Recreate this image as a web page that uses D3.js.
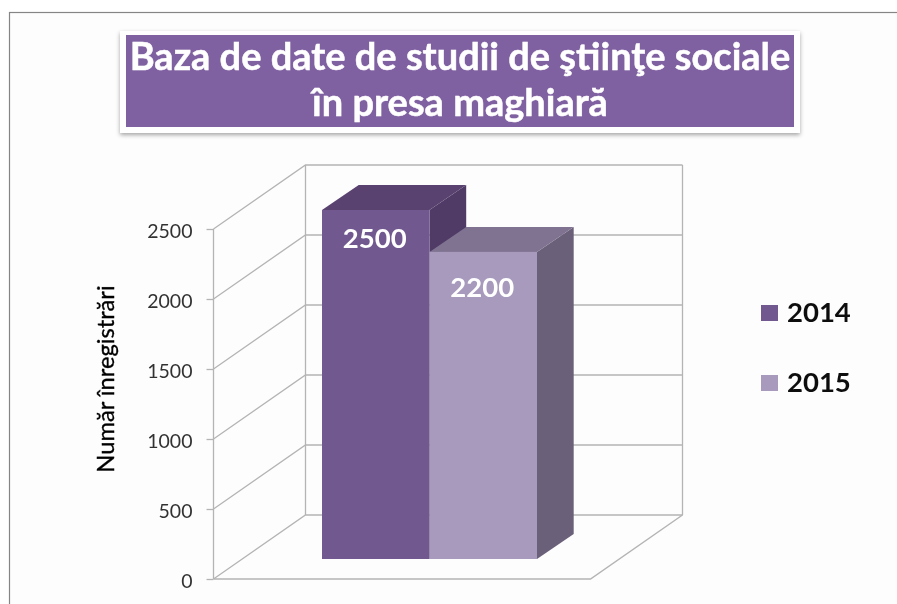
<!DOCTYPE html>
<html><head><meta charset="utf-8">
<script src="https://cdn.jsdelivr.net/npm/d3@7"></script>
<style>html,body{margin:0;padding:0;background:#fff}svg{display:block}text{font-family:Lato,"Open Sans",sans-serif}</style>
</head><body><div id="c"></div>
<script>
const titleLines = ["Baza de date de studii de ştiinţe sociale", "în presa maghiară"];
const yAxisTitle = "Număr înregistrări";
const series = ["2014", "2015"];
const values = [2500, 2200];
const frontColors = ["#71588f", "#a79abd"];
const topColors = ["#5a4370", "#7f7391"];
const sideColors = ["#4f3a66", "#6b6079"];
const yTicks = [0, 500, 1000, 1500, 2000, 2500];

const W = 897, H = 604;
const svg = d3.select("#c").append("svg").attr("width", W).attr("height", H);
const defs = svg.append("defs");
const f = defs.append("filter").attr("id","sh").attr("x","-5%").attr("y","-10%").attr("width","110%").attr("height","125%");
f.append("feDropShadow").attr("dx",0).attr("dy",2).attr("stdDeviation",2).attr("flood-color","#000").attr("flood-opacity",0.35);
const b = defs.append("filter").attr("id","soft").attr("filterUnits","userSpaceOnUse").attr("x",0).attr("y",0).attr("width",W).attr("height",H);
b.append("feGaussianBlur").attr("stdDeviation",0.5);

svg.append("rect").attr("width",W).attr("height",H).attr("fill","#fff");
svg.append("rect").attr("x",9.5).attr("y",12.5).attr("width",W).attr("height",H).attr("fill","#fdfdfd").attr("stroke","#858585").attr("stroke-width",1.2);

// title
svg.append("rect").attr("x",120).attr("y",31).attr("width",680).attr("height",102).attr("fill","#fff").attr("filter","url(#sh)");
svg.append("rect").attr("x",126).attr("y",35).attr("width",668).attr("height",92).attr("fill","#7f60a0");
const root = svg.append("g").attr("filter","url(#soft)");
root.selectAll("text.title").data(titleLines).join("text").attr("class","title")
  .attr("x",460).attr("y",(d,i)=>70+i*46).attr("text-anchor","middle")
  .attr("font-size",38).attr("font-weight",700).attr("fill","#fff")
  .attr("stroke","#fff").attr("stroke-width",0.5).text(d=>d);

// scales
const y = d3.scaleLinear().domain([0,2500]).range([579,229]);
const barY = d3.scaleLinear().domain([0,2500]).range([559,210]);
const floorX = [213.5, 590.5];
const depth = {dx:92, dy:-64};
const bar = {dx:36.7, dy:-25};
const x = d3.scaleBand().domain(series).range([322,537]).padding(0);
const wall = "#b4b4b4";
const g = svg.append("g").attr("filter","url(#soft)");

// walls and gridlines
yTicks.forEach(t=>{
  g.append("path").attr("fill","none").attr("stroke",wall).attr("stroke-width",1.3)
   .attr("d",`M${floorX[0]},${y(t)} L${floorX[0]+depth.dx},${y(t)+depth.dy} H${floorX[1]+depth.dx}`);
});
g.append("path").attr("fill","none").attr("stroke",wall).attr("stroke-width",1.3)
 .attr("d",`M${floorX[0]},${y(0)} V${y(2500)} M${floorX[0]+depth.dx},${y(0)+depth.dy} V${y(2500)+depth.dy} M${floorX[1]+depth.dx},${y(0)+depth.dy} V${y(2500)+depth.dy}`);
g.append("path").attr("fill","none").attr("stroke",wall).attr("stroke-width",1.5)
 .attr("d",`M${floorX[0]},${y(0)} H${floorX[1]} L${floorX[1]+depth.dx},${y(0)+depth.dy}`);

// axis
const axis = d3.axisLeft(y).tickValues(yTicks).tickSize(7).tickPadding(14).tickSizeOuter(0).tickFormat(d3.format("d"));
const ag = g.append("g").attr("transform",`translate(${floorX[0]},0)`).call(axis);
ag.select(".domain").remove();
ag.selectAll("line").attr("stroke",wall).attr("stroke-width",1.3);
ag.selectAll("text").attr("font-size",19.5).attr("fill","#333").attr("font-family","Lato").attr("dy","0.42em");

// bars
const labelOffset = [38, 45];
series.forEach((s,i)=>{
  const x0=x(s), x1=x0+x.bandwidth(), yt=barY(values[i]), yb=barY(0);
  g.append("path").attr("fill",sideColors[i]).attr("d",`M${x1},${yt} l${bar.dx},${bar.dy} V${yb+bar.dy} L${x1},${yb} Z`);
  g.append("path").attr("fill",topColors[i]).attr("d",`M${x0},${yt} l${bar.dx},${bar.dy} H${x1+bar.dx} L${x1},${yt} Z`);
  g.append("rect").attr("x",x0).attr("y",yt).attr("width",x.bandwidth()).attr("height",yb-yt).attr("fill",frontColors[i]);
  g.append("text").attr("x",x0+x.bandwidth()/2-1).attr("y",yt+labelOffset[i]).attr("text-anchor","middle")
   .attr("font-size",27.5).attr("font-weight",700).attr("fill","#fff").text(values[i]);
});

// y title
g.append("text").attr("transform","translate(114,379) rotate(-90)").attr("text-anchor","middle")
 .attr("font-size",23.7).attr("font-weight",400).attr("fill","#000").attr("stroke","#000").attr("stroke-width",0.3).text(yAxisTitle);

// legend
const ly = d3.scalePoint().domain(series).range([313,383]);
series.forEach((s,i)=>{
  g.append("rect").attr("x",761).attr("y",ly(s)-8).attr("width",17).attr("height",16).attr("fill",frontColors[i]);
  g.append("text").attr("x",787).attr("y",ly(s)+9).attr("font-size",27.5).attr("font-weight",700).attr("fill","#111").text(s);
});
</script></body></html>
